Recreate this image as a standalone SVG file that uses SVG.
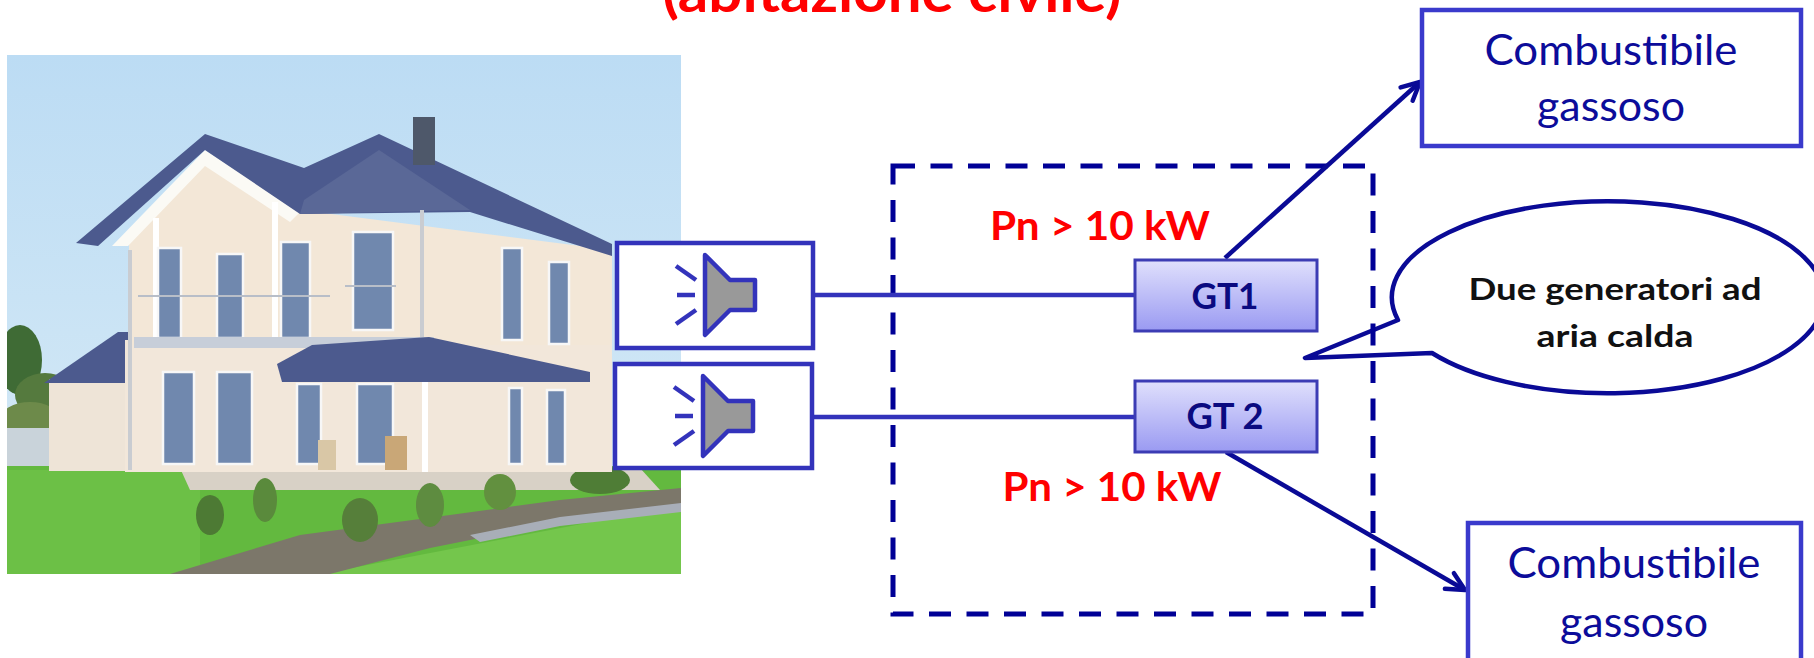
<svg xmlns="http://www.w3.org/2000/svg" width="1814" height="658" viewBox="0 0 1814 658">
<style>
.spkbox{fill:#fff;stroke:#3333BB;stroke-width:4.5}
.spk{fill:#999;stroke:#3333BB;stroke-width:4.5;stroke-linejoin:round}
.ray{stroke:#3333BB;stroke-width:4.5;fill:none}
.wire{stroke:#3333BB;stroke-width:4.5;fill:none}
.arrow{stroke:#0A0A96;stroke-width:4.5;fill:none}
.gt{fill:url(#gtGrad);stroke:#3C3CB4;stroke-width:3}
.gtt{font-family:Lato,"Open Sans",sans-serif;font-weight:bold;font-size:37px;fill:#0A0A80;text-anchor:middle}
.pn{font-family:Lato,"Open Sans",sans-serif;font-weight:bold;font-size:40px;fill:#FF0000;text-anchor:middle}
.fuel{fill:#fff;stroke:#3A3ACC;stroke-width:4.5}
.fuelt{font-family:Lato,"Open Sans",sans-serif;font-size:42px;fill:#0C0C9A;text-anchor:middle}
.bt{font-family:Lato,"Open Sans",sans-serif;font-weight:bold;font-size:30px;fill:#111;text-anchor:middle}
.win{fill:#7088AE;stroke:#F7F7F7;stroke-width:2.5}
.roof{fill:#4C5A8E}
</style>
<defs>
<linearGradient id="gtGrad" x1="0" y1="0" x2="0" y2="1">
<stop offset="0" stop-color="#E0E0FC"/>
<stop offset="1" stop-color="#9A9AF2"/>
</linearGradient>
<linearGradient id="sky" x1="0" y1="0" x2="0" y2="1">
<stop offset="0" stop-color="#BCDCF4"/>
<stop offset="1" stop-color="#D8EBF6"/>
</linearGradient>
<clipPath id="photoClip"><rect x="7" y="55" width="674" height="519"/></clipPath>
<marker id="ah" viewBox="0 0 24 24" markerWidth="24" markerHeight="24" refX="21" refY="12" orient="auto" markerUnits="userSpaceOnUse">
<path d="M3,3 L21,12 L3,21" fill="none" stroke="#0A0A96" stroke-width="4.5" stroke-linecap="round" stroke-linejoin="round"/>
</marker>
<g id="speaker">
<polygon class="spk" points="0,-40 25,-15 50,-15 50,15 25,15 0,40"/>
<line class="ray" x1="-29" y1="-29" x2="-9" y2="-15"/>
<line class="ray" x1="-28" y1="0" x2="-10" y2="0"/>
<line class="ray" x1="-29" y1="29" x2="-9" y2="15"/>
</g>
</defs>

<!-- title (cut at top, as in the reference) -->
<text x="892" y="12" font-family="Lato,'Open Sans',sans-serif" font-weight="bold" font-size="56" fill="#FF0000" text-anchor="middle" textLength="459" lengthAdjust="spacingAndGlyphs">(abitazione civile)</text>

<!-- house photo scene -->
<g id="photo" clip-path="url(#photoClip)">
<rect x="7" y="55" width="674" height="519" fill="url(#sky)"/>
<ellipse cx="20" cy="360" rx="22" ry="35" fill="#3F6B35"/>
<ellipse cx="45" cy="395" rx="30" ry="22" fill="#557A3E"/>
<ellipse cx="30" cy="420" rx="30" ry="18" fill="#6D8A4A"/>
<rect x="7" y="428" width="60" height="40" fill="#C9D3DA"/>
<rect x="7" y="466" width="674" height="108" fill="#63B93F"/>
<polygon points="7,470 200,470 200,574 7,574" fill="#6CC046"/>
<polygon points="320,574 681,505 681,574" fill="#74C64C"/>
<polygon points="180,468 640,468 660,490 190,490" fill="#D8D1C6"/>
<polygon points="170,574 300,535 450,515 560,500 681,488 681,508 560,522 430,548 330,574" fill="#7C776A"/>
<polygon points="470,535 560,517 681,503 681,512 560,526 480,542" fill="#A8AEB8"/>
<ellipse cx="210" cy="515" rx="14" ry="20" fill="#4D7A34"/>
<ellipse cx="265" cy="500" rx="12" ry="22" fill="#5A8A3C"/>
<ellipse cx="360" cy="520" rx="18" ry="22" fill="#567F3A"/>
<ellipse cx="430" cy="505" rx="14" ry="22" fill="#5E8C40"/>
<ellipse cx="500" cy="492" rx="16" ry="18" fill="#62903F"/>
<ellipse cx="600" cy="480" rx="30" ry="14" fill="#4F7D36"/>
<rect x="49" y="379" width="80" height="92" fill="#EEE4D7"/>
<polygon class="roof" points="44,383 118,332 130,332 130,383"/>
<rect x="125" y="340" width="487" height="132" fill="#F2E7DA"/>
<polygon points="129,240 205,160 300,210 612,250 612,345 129,345" fill="#F3E7D7"/>
<polygon points="112,246 205,150 300,212 290,222 205,166 128,246" fill="#FBFAF5"/>
<polygon class="roof" points="76,243 205,134 304,168 379,134 612,244 612,256 470,212 300,214 205,150 98,246"/>
<polygon points="304,200 379,150 470,210 300,214" fill="#5A6897"/>
<rect x="413" y="117" width="22" height="48" fill="#4E586A"/>
<rect x="153" y="218" width="6" height="127" fill="#FFFFFF"/>
<rect x="272" y="202" width="6" height="143" fill="#FFFFFF"/>
<rect x="128" y="250" width="4" height="220" fill="#C9CCD1"/>
<rect x="420" y="210" width="4" height="130" fill="#C9CCD1"/>
<rect class="win" x="158" y="248" width="23" height="90"/>
<rect class="win" x="217" y="254" width="26" height="84"/>
<rect class="win" x="281" y="242" width="29" height="96"/>
<rect class="win" x="353" y="232" width="40" height="98"/>
<rect class="win" x="502" y="248" width="20" height="92"/>
<rect class="win" x="549" y="262" width="20" height="82"/>
<line x1="138" y1="296" x2="330" y2="296" stroke="#B8BEC8" stroke-width="2"/>
<line x1="345" y1="286" x2="396" y2="286" stroke="#B8BEC8" stroke-width="2"/>
<rect x="134" y="337" width="300" height="11" fill="#C7CED9"/>
<polygon class="roof" points="277,364 312,345 429,337 590,372 590,382 282,382"/>
<rect class="win" x="163" y="372" width="31" height="92"/>
<rect class="win" x="217" y="372" width="35" height="92"/>
<rect class="win" x="297" y="384" width="24" height="80" fill="#55657E"/>
<rect class="win" x="357" y="384" width="36" height="80" fill="#5C6C86"/>
<rect class="win" x="509" y="388" width="13" height="76"/>
<rect class="win" x="547" y="390" width="18" height="74"/>
<rect x="422" y="382" width="6" height="90" fill="#FFFFFF"/>
<rect x="318" y="440" width="18" height="30" fill="#D9C7A6"/>
<rect x="385" y="436" width="22" height="34" fill="#C9A777"/>
</g>

<!-- speech bubble -->
<g id="bubble">
<path d="M1398,320 L1305,358 L1432,353 A216,96 0 1 0 1398,320 Z" fill="#fff" stroke="#0A0A96" stroke-width="4.5" stroke-linejoin="round"/>
<text class="bt" x="1615" y="300" textLength="293" lengthAdjust="spacingAndGlyphs">Due generatori ad</text>
<text class="bt" x="1615" y="347" textLength="157" lengthAdjust="spacingAndGlyphs">aria calda</text>
</g>

<!-- boundary (dashed) -->
<g id="boundary">
<rect x="893" y="166" width="480" height="448" fill="none" stroke="#000096" stroke-width="5" stroke-dasharray="22 15.5"/>
</g>

<!-- connectors -->
<g id="connectors">
<line class="wire" x1="813" y1="295" x2="1135" y2="295"/>
<line class="wire" x1="812" y1="417" x2="1135" y2="417"/>
<line class="arrow" x1="1225" y1="258" x2="1420" y2="82" marker-end="url(#ah)"/>
<line class="arrow" x1="1226" y1="452" x2="1465" y2="590" marker-end="url(#ah)"/>
</g>

<!-- speaker nodes -->
<g id="speaker1">
<rect class="spkbox" x="617" y="243" width="196" height="105"/>
<use href="#speaker" x="705" y="295"/>
</g>
<g id="speaker2">
<rect class="spkbox" x="615" y="364" width="197" height="104"/>
<use href="#speaker" x="703" y="416"/>
</g>

<!-- generators -->
<g id="gt1">
<rect class="gt" x="1135" y="260" width="182" height="71"/>
<text class="gtt" x="1225" y="309" textLength="67" lengthAdjust="spacingAndGlyphs">GT1</text>
</g>
<g id="gt2">
<rect class="gt" x="1135" y="381" width="182" height="71"/>
<text class="gtt" x="1225" y="429" textLength="77" lengthAdjust="spacingAndGlyphs">GT 2</text>
</g>

<!-- power labels -->
<text class="pn" x="1100" y="240" textLength="220" lengthAdjust="spacingAndGlyphs">Pn &gt; 10 kW</text>
<text class="pn" x="1112" y="501" textLength="219" lengthAdjust="spacingAndGlyphs">Pn &gt; 10 kW</text>

<!-- fuel boxes -->
<g id="fuel1">
<rect class="fuel" x="1422" y="10" width="379" height="136"/>
<text class="fuelt" x="1611" y="65" textLength="253" lengthAdjust="spacingAndGlyphs">Combustibile</text>
<text class="fuelt" x="1611" y="121" textLength="148" lengthAdjust="spacingAndGlyphs">gassoso</text>
</g>
<g id="fuel2">
<rect class="fuel" x="1468" y="523" width="333" height="145"/>
<text class="fuelt" x="1634" y="578" textLength="253" lengthAdjust="spacingAndGlyphs">Combustibile</text>
<text class="fuelt" x="1634" y="637" textLength="148" lengthAdjust="spacingAndGlyphs">gassoso</text>
</g>
</svg>
